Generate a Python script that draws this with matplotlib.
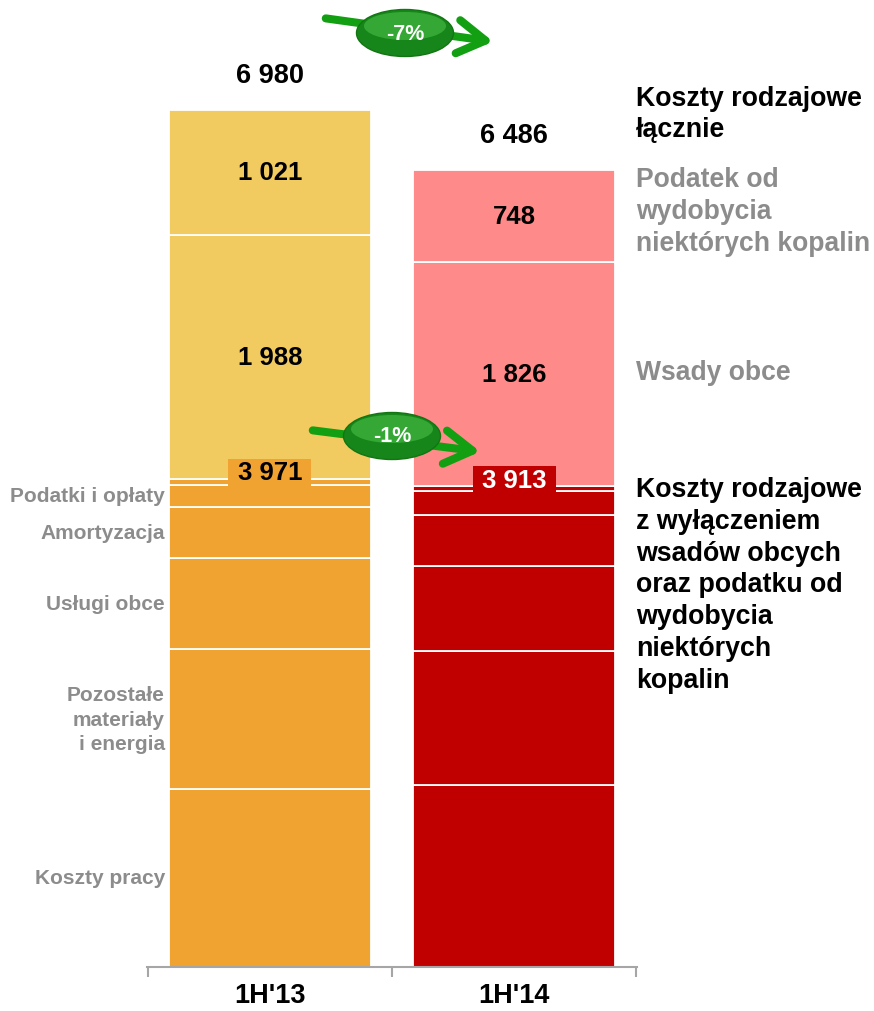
import matplotlib
matplotlib.use('Agg')
import matplotlib.pyplot as plt
from matplotlib.patches import Ellipse, Rectangle, FancyArrowPatch

plt.rcParams['font.family'] = ['Liberation Sans', 'DejaVu Sans']

# ---------------- data ----------------
categories = ["1H'13", "1H'14"]
koszty_pracy = [1444, 1480]
pozostale_materialy = [1140, 1088]
uslugi_obce = [747, 690]
amortyzacja = [415, 418]
podatki_oplaty = [179, 193]
pozostale_koszty = [46, 44]
wsady_obce = [1988, 1826]
podatek_wydobycie = [1021, 748]
subtotals = [3971, 3913]
totals = [6980, 6486]
change_total = '-7%'
change_sub = '-1%'

bottom_layers = [koszty_pracy, pozostale_materialy, uslugi_obce,
                 amortyzacja, podatki_oplaty, pozostale_koszty]
bottom_names = ['Koszty pracy', 'Pozostałe\nmateriały\ni energia',
                'Usługi obce', 'Amortyzacja', 'Podatki i opłaty', None]
top_layers = [wsady_obce, podatek_wydobycie]

bottom_colors = ['#F0A330', '#C00000']
top_colors = ['#F2CB60', '#FF8A8A']
gray = '#8C8C8C'

W, H = 874, 1012
fig = plt.figure(figsize=(W / 100, H / 100), dpi=100)
ax = fig.add_axes([147 / W, 44.5 / H, 490 / W, 967.5 / H])
ax.set_xlim(-0.504, 1.504)
ax.set_ylim(0, 7880)

x = [0, 1]
bw = 0.828


def fmt(v):
    return f'{v:,}'.replace(',', ' ')


cum = [0, 0]
bottom_centers = []
for layer in bottom_layers:
    ax.bar(x, layer, bottom=cum, width=bw, color=bottom_colors,
           edgecolor='white', linewidth=1.3)
    bottom_centers.append([c + v / 2 for c, v in zip(cum, layer)])
    cum = [c + v for c, v in zip(cum, layer)]

for layer in top_layers:
    ax.bar(x, layer, bottom=cum, width=bw, color=top_colors,
           edgecolor='white', linewidth=1.3)
    for xi, c, v in zip(x, cum, layer):
        ax.text(xi, c + v / 2, fmt(v), ha='center', va='center',
                fontsize=18.5, fontweight='bold', color='black')
    cum = [c + v for c, v in zip(cum, layer)]

# totals
for xi, t in zip(x, totals):
    ax.annotate(fmt(t), (xi, t), xytext=(0, 35), textcoords='offset pixels',
                ha='center', va='center', fontsize=19.5, fontweight='bold')

# subtotal boxes
px_per_unit = 967.5 / 7880
box_w = 83 / 244
box_h = 27 / px_per_unit
txt_cols = ['black', 'white']
for xi, s, bc, tc in zip(x, subtotals, bottom_colors, txt_cols):
    yc = s + 6.5 / px_per_unit
    ax.add_patch(Rectangle((xi - box_w / 2, yc - box_h / 2), box_w, box_h,
                           facecolor=bc, edgecolor='none', zorder=3))
    ax.text(xi, yc, fmt(s), ha='center', va='center', fontsize=18.5,
            fontweight='bold', color=tc, zorder=4)

# left category-of-cost labels (bar 1)
for name, centers in zip(bottom_names, bottom_centers):
    if name is None:
        continue
    ax.annotate(name, (x[0] - bw / 2, centers[0]), xytext=(-4, 0),
                textcoords='offset pixels', ha='right', va='center',
                multialignment='right', fontsize=15, fontweight='bold',
                color=gray, linespacing=1.38)

# right labels
xr = 1.5
ax.annotate('Koszty rodzajowe\nłącznie', (xr, totals[0]), xytext=(0, -4),
            textcoords='offset pixels', ha='left', va='center',
            fontsize=19.3, fontweight='bold', color='black', linespacing=1.27,
            annotation_clip=False)
ax.annotate('Podatek od\nwydobycia\nniektórych kopalin',
            (xr, subtotals[1] + wsady_obce[1] + podatek_wydobycie[1] / 2),
            xytext=(0, 5), textcoords='offset pixels', ha='left', va='center',
            fontsize=19.1, fontweight='bold', color=gray, linespacing=1.29,
            annotation_clip=False)
ax.annotate('Wsady obce', (xr, subtotals[1] + wsady_obce[1] / 2),
            xytext=(0, 2), textcoords='offset pixels', ha='left', va='center',
            fontsize=19.1, fontweight='bold', color=gray, annotation_clip=False)
ax.annotate('Koszty rodzajowe\nz wyłączeniem\nwsadów obcych\noraz podatku od\nwydobycia\nniektórych\nkopalin',
            (xr, subtotals[1]), xytext=(0, 10), textcoords='offset pixels',
            ha='left', va='top', fontsize=19.3, fontweight='bold',
            color='black', linespacing=1.29, annotation_clip=False)

# axis styling
for s in ['top', 'left', 'right']:
    ax.spines[s].set_visible(False)
ax.spines['bottom'].set_color('#A6A6A6')
ax.spines['bottom'].set_linewidth(1.5)
ax.set_yticks([])
ax.set_xticks(x)
ax.set_xticklabels(categories, fontsize=19.5, fontweight='bold')
ax.set_xticks([-0.5, 0.5, 1.5], minor=True)
ax.tick_params(axis='x', which='major', length=0, pad=11)
ax.tick_params(axis='x', which='minor', length=7, width=1.5,
               color='#A6A6A6', direction='out')


# change badges (figure pixel coordinates, decorative)
def fp(px, py):
    return (px / W, 1 - py / H)


def badge(tail, head, center, label):
    arr = FancyArrowPatch(fp(*tail), fp(*head), transform=fig.transFigure,
                          arrowstyle='->,head_length=0.5,head_width=0.3',
                          mutation_scale=40, lw=5.8, color='#12A012',
                          capstyle='round', joinstyle='round', zorder=10)
    fig.add_artist(arr)
    e = Ellipse(fp(*center), 97 / W, 47 / H, transform=fig.transFigure,
                facecolor='#17861A', edgecolor='#127512', lw=1, zorder=11)
    fig.add_artist(e)
    hx, hy = fp(center[0], center[1] - 7)
    e2 = Ellipse((hx, hy), 82 / W, 28 / H, transform=fig.transFigure,
                 facecolor='#4CC44C', edgecolor='none', alpha=0.55, zorder=12)
    fig.add_artist(e2)
    fig.text(*fp(*center), label, ha='center', va='center', color='white',
             fontsize=15.5, fontweight='bold', zorder=13)


badge((323, 19), (496, 43), (405, 34), change_total)
badge((310, 431), (483, 453), (392, 437), change_sub)

fig.savefig('out.png', dpi=100)
